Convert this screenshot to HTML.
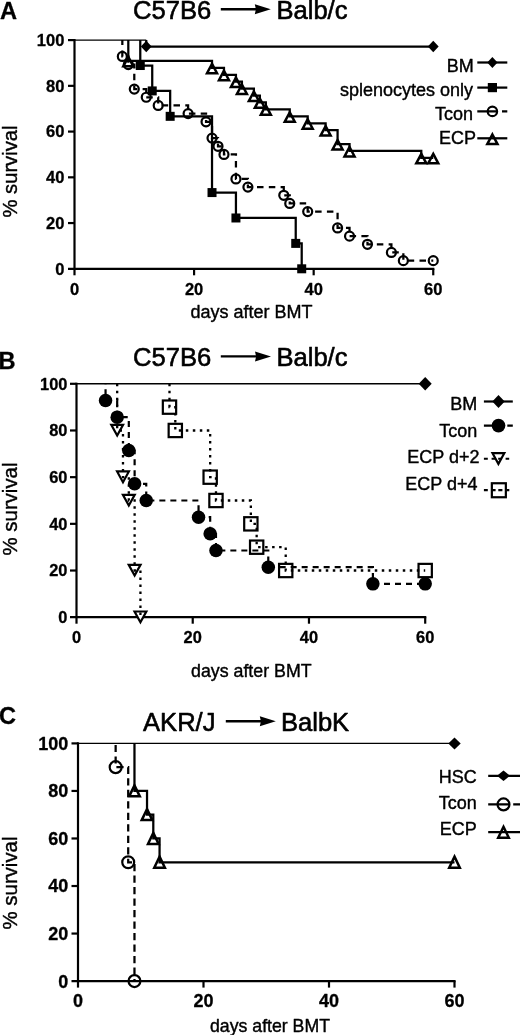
<!DOCTYPE html>
<html><head><meta charset="utf-8"><title>Survival after BMT</title>
<style>
html,body{margin:0;padding:0;background:#fff;}
body{width:520px;height:1035px;overflow:hidden;}
svg{display:block;font-family:'Liberation Sans', Arial, Helvetica, sans-serif;fill:#000;}
</style></head><body>
<svg width="520" height="1035" viewBox="0 0 520 1035">
<rect width="520" height="1035" fill="#fff"/>
<text x="0" y="18.8" font-size="23.6" font-weight="bold" text-anchor="start" stroke="#000" stroke-width="0.3" stroke-linejoin="round">A</text>
<text x="133" y="18.6" font-size="25.6" font-weight="normal" text-anchor="start" stroke="#000" stroke-width="0.6" stroke-linejoin="round">C57B6</text>
<path d="M220.8 9.3 H261.2" fill="none" stroke="#000" stroke-width="2.4" stroke-linejoin="miter" stroke-linecap="butt"/>
<path d="M270.8 9.3 L254.8 4.3 L255.92 9.3 L254.8 14.3Z" fill="#000"/>
<text x="276.4" y="18.6" font-size="25.6" font-weight="normal" text-anchor="start" stroke="#000" stroke-width="0.6" stroke-linejoin="round">Balb/c</text>
<text x="17" y="171.5" font-size="20.2" font-weight="normal" text-anchor="middle" stroke="#000" stroke-width="0.4" stroke-linejoin="round" transform="rotate(-90 17 171.5)">% survival</text>
<text x="251.5" y="318" font-size="18" font-weight="normal" text-anchor="middle" stroke="#000" stroke-width="0.4" stroke-linejoin="round">days after BMT</text>
<path d="M74.5 39 V275.3" fill="none" stroke="#000" stroke-width="2.2" stroke-linejoin="miter" stroke-linecap="butt"/>
<path d="M68 268.8 H434.35" fill="none" stroke="#000" stroke-width="2.2" stroke-linejoin="miter" stroke-linecap="butt"/>
<path d="M68 223.06 H74.5" fill="none" stroke="#000" stroke-width="2.2" stroke-linejoin="miter" stroke-linecap="butt"/>
<path d="M68 177.32 H74.5" fill="none" stroke="#000" stroke-width="2.2" stroke-linejoin="miter" stroke-linecap="butt"/>
<path d="M68 131.58 H74.5" fill="none" stroke="#000" stroke-width="2.2" stroke-linejoin="miter" stroke-linecap="butt"/>
<path d="M68 85.84 H74.5" fill="none" stroke="#000" stroke-width="2.2" stroke-linejoin="miter" stroke-linecap="butt"/>
<path d="M68 40.1 H74.5" fill="none" stroke="#000" stroke-width="2.2" stroke-linejoin="miter" stroke-linecap="butt"/>
<path d="M194.08 268.8 V275.3" fill="none" stroke="#000" stroke-width="2.2" stroke-linejoin="miter" stroke-linecap="butt"/>
<path d="M313.67 268.8 V275.3" fill="none" stroke="#000" stroke-width="2.2" stroke-linejoin="miter" stroke-linecap="butt"/>
<path d="M433.25 268.8 V275.3" fill="none" stroke="#000" stroke-width="2.2" stroke-linejoin="miter" stroke-linecap="butt"/>
<text x="64.4" y="274.71" font-size="16.5" font-weight="bold" text-anchor="end" stroke="#000" stroke-width="0.3" stroke-linejoin="round">0</text>
<text x="64.4" y="228.97" font-size="16.5" font-weight="bold" text-anchor="end" stroke="#000" stroke-width="0.3" stroke-linejoin="round">20</text>
<text x="64.4" y="183.23" font-size="16.5" font-weight="bold" text-anchor="end" stroke="#000" stroke-width="0.3" stroke-linejoin="round">40</text>
<text x="64.4" y="137.49" font-size="16.5" font-weight="bold" text-anchor="end" stroke="#000" stroke-width="0.3" stroke-linejoin="round">60</text>
<text x="64.4" y="91.75" font-size="16.5" font-weight="bold" text-anchor="end" stroke="#000" stroke-width="0.3" stroke-linejoin="round">80</text>
<text x="64.4" y="46.01" font-size="16.5" font-weight="bold" text-anchor="end" stroke="#000" stroke-width="0.3" stroke-linejoin="round">100</text>
<text x="74.5" y="294.8" font-size="16.5" font-weight="bold" text-anchor="middle" stroke="#000" stroke-width="0.3" stroke-linejoin="round">0</text>
<text x="194.08" y="294.8" font-size="16.5" font-weight="bold" text-anchor="middle" stroke="#000" stroke-width="0.3" stroke-linejoin="round">20</text>
<text x="313.67" y="294.8" font-size="16.5" font-weight="bold" text-anchor="middle" stroke="#000" stroke-width="0.3" stroke-linejoin="round">40</text>
<text x="433.25" y="294.8" font-size="16.5" font-weight="bold" text-anchor="middle" stroke="#000" stroke-width="0.3" stroke-linejoin="round">60</text>
<path d="M74.5 40.1 H146.25" fill="none" stroke="#000" stroke-width="1.4" stroke-linejoin="miter" stroke-linecap="butt"/>
<path d="M146.25 40.1 V46.62 H433.25" fill="none" stroke="#000" stroke-width="2.25" stroke-linejoin="miter" stroke-linecap="butt"/>
<path d="M146.25 40.87 L151.65 46.62 L146.25 52.37 L140.85 46.62Z" fill="#000"/>
<path d="M433.25 40.87 L438.65 46.62 L433.25 52.37 L427.85 46.62Z" fill="#000"/>
<path d="M140.27 40.1 V65.51 H152.23 V90.92 H170.17 V116.33 H212.02 V192.57 H235.94 V217.98 H295.73 V243.39 H301.71 V268.8" fill="none" stroke="#000" stroke-width="2.25" stroke-linejoin="miter" stroke-linecap="butt"/>
<rect x="135.77" y="61.01" width="9" height="9" fill="#000"/>
<rect x="147.73" y="86.42" width="9" height="9" fill="#000"/>
<rect x="165.67" y="111.83" width="9" height="9" fill="#000"/>
<rect x="207.52" y="188.07" width="9" height="9" fill="#000"/>
<rect x="231.44" y="213.48" width="9" height="9" fill="#000"/>
<rect x="291.23" y="238.89" width="9" height="9" fill="#000"/>
<rect x="297.21" y="264.3" width="9" height="9" fill="#000"/>
<path d="M128.31 40.1 V60.89 H212.02 V67.82 H223.98 V74.75 H235.94 V81.68 H241.92 V88.61 H253.88 V95.54 H259.85 V102.47 H265.83 V109.4 H289.75 V116.33 H307.69 V123.26 H325.62 V130.19 H337.58 V144.05 H349.54 V150.98 H421.29 V157.92 H433.25" fill="none" stroke="#000" stroke-width="2.25" stroke-linejoin="miter" stroke-linecap="butt"/>
<path d="M128.31 56.89 L133.31 66.29 L123.31 66.29Z" fill="none" stroke="#000" stroke-width="2.5" stroke-linejoin="miter"/>
<path d="M212.02 63.82 L217.02 73.22 L207.02 73.22Z" fill="none" stroke="#000" stroke-width="2.5" stroke-linejoin="miter"/>
<path d="M223.98 70.75 L228.98 80.15 L218.98 80.15Z" fill="none" stroke="#000" stroke-width="2.5" stroke-linejoin="miter"/>
<path d="M235.94 77.68 L240.94 87.08 L230.94 87.08Z" fill="none" stroke="#000" stroke-width="2.5" stroke-linejoin="miter"/>
<path d="M241.92 84.61 L246.92 94.01 L236.92 94.01Z" fill="none" stroke="#000" stroke-width="2.5" stroke-linejoin="miter"/>
<path d="M253.88 91.54 L258.88 100.94 L248.88 100.94Z" fill="none" stroke="#000" stroke-width="2.5" stroke-linejoin="miter"/>
<path d="M259.85 98.47 L264.85 107.87 L254.85 107.87Z" fill="none" stroke="#000" stroke-width="2.5" stroke-linejoin="miter"/>
<path d="M265.83 105.4 L270.83 114.8 L260.83 114.8Z" fill="none" stroke="#000" stroke-width="2.5" stroke-linejoin="miter"/>
<path d="M289.75 112.33 L294.75 121.73 L284.75 121.73Z" fill="none" stroke="#000" stroke-width="2.5" stroke-linejoin="miter"/>
<path d="M307.69 119.26 L312.69 128.66 L302.69 128.66Z" fill="none" stroke="#000" stroke-width="2.5" stroke-linejoin="miter"/>
<path d="M325.62 126.19 L330.62 135.59 L320.62 135.59Z" fill="none" stroke="#000" stroke-width="2.5" stroke-linejoin="miter"/>
<path d="M337.58 140.05 L342.58 149.45 L332.58 149.45Z" fill="none" stroke="#000" stroke-width="2.5" stroke-linejoin="miter"/>
<path d="M349.54 146.98 L354.54 156.38 L344.54 156.38Z" fill="none" stroke="#000" stroke-width="2.5" stroke-linejoin="miter"/>
<path d="M421.29 153.92 L426.29 163.32 L416.29 163.32Z" fill="none" stroke="#000" stroke-width="2.5" stroke-linejoin="miter"/>
<path d="M433.25 153.92 L438.25 163.32 L428.25 163.32Z" fill="none" stroke="#000" stroke-width="2.5" stroke-linejoin="miter"/>
<path d="M212.02 63.82 L214.45 67.82 L212.02 67.82Z" fill="#000"/>
<path d="M223.98 70.75 L226.41 74.75 L223.98 74.75Z" fill="#000"/>
<path d="M235.94 77.68 L238.37 81.68 L235.94 81.68Z" fill="#000"/>
<path d="M241.92 84.61 L244.34 88.61 L241.92 88.61Z" fill="#000"/>
<path d="M253.88 91.54 L256.3 95.54 L253.88 95.54Z" fill="#000"/>
<path d="M259.85 98.47 L262.28 102.47 L259.85 102.47Z" fill="#000"/>
<path d="M265.83 105.4 L268.26 109.4 L265.83 109.4Z" fill="#000"/>
<path d="M289.75 112.33 L292.18 116.33 L289.75 116.33Z" fill="#000"/>
<path d="M307.69 119.26 L310.12 123.26 L307.69 123.26Z" fill="#000"/>
<path d="M325.62 126.19 L328.05 130.19 L325.62 130.19Z" fill="#000"/>
<path d="M337.58 140.05 L340.01 144.05 L337.58 144.05Z" fill="#000"/>
<path d="M349.54 146.98 L351.97 150.98 L349.54 150.98Z" fill="#000"/>
<path d="M421.29 153.92 L423.72 157.92 L421.29 157.92Z" fill="#000"/>
<path d="M122.33 40.1 V56.44 H128.31 V64.6 H134.29 V89.11 H146.25 V97.27 H158.21 V105.44 H188.1 V113.61 H206.04 V121.78 H212.02 V138.11 H218 V146.28 H223.98 V154.45 H235.94 V178.95 H247.9 V187.12 H283.77 V195.29 H289.75 V203.46 H307.69 V211.62 H337.58 V227.96 H349.54 V236.13 H367.48 V244.3 H391.4 V252.46 H403.35 V260.63 H433.25" fill="none" stroke="#000" stroke-width="2.25" stroke-linejoin="miter" stroke-linecap="butt" stroke-dasharray="6.5 5.3" stroke-dashoffset="1.5"/>
<circle cx="122.33" cy="56.44" r="4.5" fill="none" stroke="#000" stroke-width="2.2"/>
<circle cx="128.31" cy="64.6" r="4.5" fill="none" stroke="#000" stroke-width="2.2"/>
<circle cx="134.29" cy="89.11" r="4.5" fill="none" stroke="#000" stroke-width="2.2"/>
<circle cx="146.25" cy="97.27" r="4.5" fill="none" stroke="#000" stroke-width="2.2"/>
<circle cx="158.21" cy="105.44" r="4.5" fill="none" stroke="#000" stroke-width="2.2"/>
<circle cx="188.1" cy="113.61" r="4.5" fill="none" stroke="#000" stroke-width="2.2"/>
<circle cx="206.04" cy="121.78" r="4.5" fill="none" stroke="#000" stroke-width="2.2"/>
<circle cx="212.02" cy="138.11" r="4.5" fill="none" stroke="#000" stroke-width="2.2"/>
<circle cx="218" cy="146.28" r="4.5" fill="none" stroke="#000" stroke-width="2.2"/>
<circle cx="223.98" cy="154.45" r="4.5" fill="none" stroke="#000" stroke-width="2.2"/>
<circle cx="235.94" cy="178.95" r="4.5" fill="none" stroke="#000" stroke-width="2.2"/>
<circle cx="247.9" cy="187.12" r="4.5" fill="none" stroke="#000" stroke-width="2.2"/>
<circle cx="283.77" cy="195.29" r="4.5" fill="none" stroke="#000" stroke-width="2.2"/>
<circle cx="289.75" cy="203.46" r="4.5" fill="none" stroke="#000" stroke-width="2.2"/>
<circle cx="307.69" cy="211.62" r="4.5" fill="none" stroke="#000" stroke-width="2.2"/>
<circle cx="337.58" cy="227.96" r="4.5" fill="none" stroke="#000" stroke-width="2.2"/>
<circle cx="349.54" cy="236.13" r="4.5" fill="none" stroke="#000" stroke-width="2.2"/>
<circle cx="367.48" cy="244.3" r="4.5" fill="none" stroke="#000" stroke-width="2.2"/>
<circle cx="391.4" cy="252.46" r="4.5" fill="none" stroke="#000" stroke-width="2.2"/>
<circle cx="403.35" cy="260.63" r="4.5" fill="none" stroke="#000" stroke-width="2.2"/>
<circle cx="433.25" cy="260.63" r="4.5" fill="none" stroke="#000" stroke-width="2.2"/>
<text x="473.8" y="71.7" font-size="18" font-weight="normal" text-anchor="end" stroke="#000" stroke-width="0.4" stroke-linejoin="round">BM</text>
<text x="473" y="96.3" font-size="18" font-weight="normal" text-anchor="end" stroke="#000" stroke-width="0.4" stroke-linejoin="round">splenocytes only</text>
<text x="473" y="119.5" font-size="18" font-weight="normal" text-anchor="end" stroke="#000" stroke-width="0.4" stroke-linejoin="round">Tcon</text>
<text x="476" y="143.7" font-size="18" font-weight="normal" text-anchor="end" stroke="#000" stroke-width="0.4" stroke-linejoin="round">ECP</text>
<path d="M477.3 62.5 H507.3" fill="none" stroke="#000" stroke-width="2.25" stroke-linejoin="miter" stroke-linecap="butt"/>
<path d="M492.4 57.1 L497.55 62.5 L492.4 67.9 L487.25 62.5Z" fill="#000"/>
<path d="M477.3 87.6 H507.3" fill="none" stroke="#000" stroke-width="2.25" stroke-linejoin="miter" stroke-linecap="butt"/>
<rect x="487.8" y="83" width="9.2" height="9.2" fill="#000"/>
<path d="M477.3 111.4 H498 M502 111.4 H507.3" fill="none" stroke="#000" stroke-width="2.25" stroke-linejoin="miter" stroke-linecap="butt"/>
<circle cx="492.4" cy="111.4" r="4.7" fill="none" stroke="#000" stroke-width="2.2"/>
<path d="M477.3 138.3 H507.3" fill="none" stroke="#000" stroke-width="2.25" stroke-linejoin="miter" stroke-linecap="butt"/>
<path d="M492.4 134.5 L497.5 144.1 L487.3 144.1Z" fill="none" stroke="#000" stroke-width="2.5" stroke-linejoin="miter"/>
<text x="-1.6" y="369.2" font-size="23.6" font-weight="bold" text-anchor="start" stroke="#000" stroke-width="0.3" stroke-linejoin="round">B</text>
<text x="133" y="365.5" font-size="25.6" font-weight="normal" text-anchor="start" stroke="#000" stroke-width="0.6" stroke-linejoin="round">C57B6</text>
<path d="M220.8 356.4 H261.4" fill="none" stroke="#000" stroke-width="2.4" stroke-linejoin="miter" stroke-linecap="butt"/>
<path d="M271 356.4 L255 351.4 L256.12 356.4 L255 361.4Z" fill="#000"/>
<text x="276.4" y="365.5" font-size="25.6" font-weight="normal" text-anchor="start" stroke="#000" stroke-width="0.6" stroke-linejoin="round">Balb/c</text>
<text x="17.3" y="509" font-size="20.4" font-weight="normal" text-anchor="middle" stroke="#000" stroke-width="0.4" stroke-linejoin="round" transform="rotate(-90 17.3 509)">% survival</text>
<text x="251.3" y="676.8" font-size="17.8" font-weight="normal" text-anchor="middle" stroke="#000" stroke-width="0.4" stroke-linejoin="round">days after BMT</text>
<path d="M76.5 382.7 V623.7" fill="none" stroke="#000" stroke-width="2.2" stroke-linejoin="miter" stroke-linecap="butt"/>
<path d="M70 617.2 H426.3" fill="none" stroke="#000" stroke-width="2.2" stroke-linejoin="miter" stroke-linecap="butt"/>
<path d="M70 570.52 H76.5" fill="none" stroke="#000" stroke-width="2.2" stroke-linejoin="miter" stroke-linecap="butt"/>
<path d="M70 523.84 H76.5" fill="none" stroke="#000" stroke-width="2.2" stroke-linejoin="miter" stroke-linecap="butt"/>
<path d="M70 477.16 H76.5" fill="none" stroke="#000" stroke-width="2.2" stroke-linejoin="miter" stroke-linecap="butt"/>
<path d="M70 430.48 H76.5" fill="none" stroke="#000" stroke-width="2.2" stroke-linejoin="miter" stroke-linecap="butt"/>
<path d="M70 383.8 H76.5" fill="none" stroke="#000" stroke-width="2.2" stroke-linejoin="miter" stroke-linecap="butt"/>
<path d="M192.73 617.2 V623.7" fill="none" stroke="#000" stroke-width="2.2" stroke-linejoin="miter" stroke-linecap="butt"/>
<path d="M308.97 617.2 V623.7" fill="none" stroke="#000" stroke-width="2.2" stroke-linejoin="miter" stroke-linecap="butt"/>
<path d="M425.2 617.2 V623.7" fill="none" stroke="#000" stroke-width="2.2" stroke-linejoin="miter" stroke-linecap="butt"/>
<text x="67.4" y="623.07" font-size="16.4" font-weight="bold" text-anchor="end" stroke="#000" stroke-width="0.3" stroke-linejoin="round">0</text>
<text x="67.4" y="576.39" font-size="16.4" font-weight="bold" text-anchor="end" stroke="#000" stroke-width="0.3" stroke-linejoin="round">20</text>
<text x="67.4" y="529.71" font-size="16.4" font-weight="bold" text-anchor="end" stroke="#000" stroke-width="0.3" stroke-linejoin="round">40</text>
<text x="67.4" y="483.03" font-size="16.4" font-weight="bold" text-anchor="end" stroke="#000" stroke-width="0.3" stroke-linejoin="round">60</text>
<text x="67.4" y="436.35" font-size="16.4" font-weight="bold" text-anchor="end" stroke="#000" stroke-width="0.3" stroke-linejoin="round">80</text>
<text x="67.4" y="389.67" font-size="16.4" font-weight="bold" text-anchor="end" stroke="#000" stroke-width="0.3" stroke-linejoin="round">100</text>
<text x="76.5" y="642.8" font-size="16.4" font-weight="bold" text-anchor="middle" stroke="#000" stroke-width="0.3" stroke-linejoin="round">0</text>
<text x="192.73" y="642.8" font-size="16.4" font-weight="bold" text-anchor="middle" stroke="#000" stroke-width="0.3" stroke-linejoin="round">20</text>
<text x="308.97" y="642.8" font-size="16.4" font-weight="bold" text-anchor="middle" stroke="#000" stroke-width="0.3" stroke-linejoin="round">40</text>
<text x="425.2" y="642.8" font-size="16.4" font-weight="bold" text-anchor="middle" stroke="#000" stroke-width="0.3" stroke-linejoin="round">60</text>
<path d="M76.5 383.8 H425.2" fill="none" stroke="#000" stroke-width="1.4" stroke-linejoin="miter" stroke-linecap="butt"/>
<path d="M425.2 377 L431.7 383.8 L425.2 390.6 L418.7 383.8Z" fill="#000"/>
<path d="M111.28 424.78 L123.08 424.78 L117.18 435.48Z" fill="#fff" stroke="#000" stroke-width="2.2" stroke-linejoin="miter"/>
<path d="M117.09 471.46 L128.89 471.46 L122.99 482.16Z" fill="#fff" stroke="#000" stroke-width="2.2" stroke-linejoin="miter"/>
<path d="M122.91 494.8 L134.71 494.8 L128.81 505.5Z" fill="#fff" stroke="#000" stroke-width="2.2" stroke-linejoin="miter"/>
<path d="M128.72 564.82 L140.52 564.82 L134.62 575.52Z" fill="#fff" stroke="#000" stroke-width="2.2" stroke-linejoin="miter"/>
<path d="M134.53 611.5 L146.33 611.5 L140.43 622.2Z" fill="#fff" stroke="#000" stroke-width="2.2" stroke-linejoin="miter"/>
<path d="M117.18 383.8 V430.48 H122.99 V477.16 H128.81 V500.5 H134.62 V570.52 H140.43 V617.2" fill="none" stroke="#000" stroke-width="2.3" stroke-linejoin="miter" stroke-linecap="butt" stroke-dasharray="2.5 4.5" stroke-dashoffset="0"/>
<rect x="162.84" y="400.49" width="13.3" height="13.3" fill="none" stroke="#000" stroke-width="2.2"/>
<rect x="168.65" y="423.83" width="13.3" height="13.3" fill="none" stroke="#000" stroke-width="2.2"/>
<rect x="203.52" y="470.51" width="13.3" height="13.3" fill="none" stroke="#000" stroke-width="2.2"/>
<rect x="209.33" y="493.85" width="13.3" height="13.3" fill="none" stroke="#000" stroke-width="2.2"/>
<rect x="244.2" y="517.19" width="13.3" height="13.3" fill="none" stroke="#000" stroke-width="2.2"/>
<rect x="250.01" y="540.53" width="13.3" height="13.3" fill="none" stroke="#000" stroke-width="2.2"/>
<rect x="279.07" y="563.87" width="13.3" height="13.3" fill="none" stroke="#000" stroke-width="2.2"/>
<rect x="418.55" y="563.87" width="13.3" height="13.3" fill="none" stroke="#000" stroke-width="2.2"/>
<path d="M169.49 383.8 V407.14 H175.3 V430.48 H210.17 V477.16 H215.98 V500.5 H250.85 V523.84 H256.66 V547.18 H285.72 V570.52 H425.2" fill="none" stroke="#000" stroke-width="2.3" stroke-linejoin="miter" stroke-linecap="butt" stroke-dasharray="2.5 4.5" stroke-dashoffset="0"/>
<path d="M105.56 383.8 V400.47 H117.18 V417.14 H128.81 V450.49 H134.62 V483.83 H146.24 V500.5 H198.55 V517.17 H210.17 V533.84 H215.98 V550.51 H268.28 V567.19 H372.89 V583.86 H425.2" fill="none" stroke="#000" stroke-width="2.2" stroke-linejoin="miter" stroke-linecap="butt" stroke-dasharray="6 5" stroke-dashoffset="5.5"/>
<circle cx="105.56" cy="400.47" r="6.75" fill="#000"/>
<circle cx="117.18" cy="417.14" r="6.75" fill="#000"/>
<circle cx="128.81" cy="450.49" r="6.75" fill="#000"/>
<circle cx="134.62" cy="483.83" r="6.75" fill="#000"/>
<circle cx="146.24" cy="500.5" r="6.75" fill="#000"/>
<circle cx="198.55" cy="517.17" r="6.75" fill="#000"/>
<circle cx="210.17" cy="533.84" r="6.75" fill="#000"/>
<circle cx="215.98" cy="550.51" r="6.75" fill="#000"/>
<circle cx="268.28" cy="567.19" r="6.75" fill="#000"/>
<circle cx="372.89" cy="583.86" r="6.75" fill="#000"/>
<circle cx="425.2" cy="583.86" r="6.75" fill="#000"/>
<text x="477.3" y="410.3" font-size="18" font-weight="normal" text-anchor="end" stroke="#000" stroke-width="0.4" stroke-linejoin="round">BM</text>
<text x="477.3" y="436.6" font-size="18" font-weight="normal" text-anchor="end" stroke="#000" stroke-width="0.4" stroke-linejoin="round">Tcon</text>
<text x="479.5" y="462.5" font-size="18" font-weight="normal" text-anchor="end" stroke="#000" stroke-width="0.4" stroke-linejoin="round">ECP d+2</text>
<text x="477.6" y="490" font-size="18" font-weight="normal" text-anchor="end" stroke="#000" stroke-width="0.4" stroke-linejoin="round">ECP d+4</text>
<path d="M483.9 401.5 H512.8" fill="none" stroke="#000" stroke-width="2.2" stroke-linejoin="miter" stroke-linecap="butt"/>
<path d="M498.5 395 L504.7 401.5 L498.5 408 L492.3 401.5Z" fill="#000"/>
<path d="M483.9 425.6 H498 M507.3 425.6 H512.8" fill="none" stroke="#000" stroke-width="2.2" stroke-linejoin="miter" stroke-linecap="butt"/>
<circle cx="498.5" cy="425.6" r="6.85" fill="#000"/>
<path d="M483.9 458.75 H487.8 M491.6 458.75 H495.5 M498.2 458.75 H502 M505.6 458.75 H509.2" fill="none" stroke="#000" stroke-width="2.2" stroke-linejoin="miter" stroke-linecap="butt"/>
<path d="M492.5 453.2 L504.3 453.2 L498.4 463.9Z" fill="none" stroke="#000" stroke-width="2.2" stroke-linejoin="miter"/>
<path d="M483.9 490.1 H487.8 M491.6 490.1 H495.6 M498.3 490.1 H502.4 M506.5 490.1 H509.3" fill="none" stroke="#000" stroke-width="2.2" stroke-linejoin="miter" stroke-linecap="butt"/>
<rect x="491.85" y="483.25" width="14" height="14" fill="none" stroke="#000" stroke-width="2.2"/>
<text x="-1" y="724.1" font-size="23.6" font-weight="bold" text-anchor="start" stroke="#000" stroke-width="0.3" stroke-linejoin="round">C</text>
<text x="143" y="730.5" font-size="25.6" font-weight="normal" text-anchor="start" stroke="#000" stroke-width="0.6" stroke-linejoin="round">AKR/J</text>
<path d="M225.8 721.2 H266.2" fill="none" stroke="#000" stroke-width="2.4" stroke-linejoin="miter" stroke-linecap="butt"/>
<path d="M275.8 721.2 L259.8 716.2 L260.92 721.2 L259.8 726.2Z" fill="#000"/>
<text x="280.9" y="730.5" font-size="25.6" font-weight="normal" text-anchor="start" stroke="#000" stroke-width="0.6" stroke-linejoin="round">BalbK</text>
<text x="17.3" y="883" font-size="20.4" font-weight="normal" text-anchor="middle" stroke="#000" stroke-width="0.4" stroke-linejoin="round" transform="rotate(-90 17.3 883)">% survival</text>
<text x="270" y="1031.8" font-size="17.7" font-weight="normal" text-anchor="middle" stroke="#000" stroke-width="0.4" stroke-linejoin="round">days after BMT</text>
<path d="M78 742.3 V987.6" fill="none" stroke="#000" stroke-width="2.2" stroke-linejoin="miter" stroke-linecap="butt"/>
<path d="M71.5 981.1 H455.6" fill="none" stroke="#000" stroke-width="2.2" stroke-linejoin="miter" stroke-linecap="butt"/>
<path d="M71.5 933.56 H78" fill="none" stroke="#000" stroke-width="2.2" stroke-linejoin="miter" stroke-linecap="butt"/>
<path d="M71.5 886.02 H78" fill="none" stroke="#000" stroke-width="2.2" stroke-linejoin="miter" stroke-linecap="butt"/>
<path d="M71.5 838.48 H78" fill="none" stroke="#000" stroke-width="2.2" stroke-linejoin="miter" stroke-linecap="butt"/>
<path d="M71.5 790.94 H78" fill="none" stroke="#000" stroke-width="2.2" stroke-linejoin="miter" stroke-linecap="butt"/>
<path d="M71.5 743.4 H78" fill="none" stroke="#000" stroke-width="2.2" stroke-linejoin="miter" stroke-linecap="butt"/>
<path d="M203.5 981.1 V987.6" fill="none" stroke="#000" stroke-width="2.2" stroke-linejoin="miter" stroke-linecap="butt"/>
<path d="M329 981.1 V987.6" fill="none" stroke="#000" stroke-width="2.2" stroke-linejoin="miter" stroke-linecap="butt"/>
<path d="M454.5 981.1 V987.6" fill="none" stroke="#000" stroke-width="2.2" stroke-linejoin="miter" stroke-linecap="butt"/>
<text x="68.2" y="987.54" font-size="18" font-weight="bold" text-anchor="end" stroke="#000" stroke-width="0.3" stroke-linejoin="round">0</text>
<text x="68.2" y="940" font-size="18" font-weight="bold" text-anchor="end" stroke="#000" stroke-width="0.3" stroke-linejoin="round">20</text>
<text x="68.2" y="892.46" font-size="18" font-weight="bold" text-anchor="end" stroke="#000" stroke-width="0.3" stroke-linejoin="round">40</text>
<text x="68.2" y="844.92" font-size="18" font-weight="bold" text-anchor="end" stroke="#000" stroke-width="0.3" stroke-linejoin="round">60</text>
<text x="68.2" y="797.38" font-size="18" font-weight="bold" text-anchor="end" stroke="#000" stroke-width="0.3" stroke-linejoin="round">80</text>
<text x="68.2" y="749.84" font-size="18" font-weight="bold" text-anchor="end" stroke="#000" stroke-width="0.3" stroke-linejoin="round">100</text>
<text x="78" y="1007.1" font-size="18" font-weight="bold" text-anchor="middle" stroke="#000" stroke-width="0.3" stroke-linejoin="round">0</text>
<text x="203.5" y="1007.1" font-size="18" font-weight="bold" text-anchor="middle" stroke="#000" stroke-width="0.3" stroke-linejoin="round">20</text>
<text x="329" y="1007.1" font-size="18" font-weight="bold" text-anchor="middle" stroke="#000" stroke-width="0.3" stroke-linejoin="round">40</text>
<text x="454.5" y="1007.1" font-size="18" font-weight="bold" text-anchor="middle" stroke="#000" stroke-width="0.3" stroke-linejoin="round">60</text>
<path d="M78 743.4 H454.5" fill="none" stroke="#000" stroke-width="1.4" stroke-linejoin="miter" stroke-linecap="butt"/>
<path d="M454.5 737.4 L460.7 743.4 L454.5 749.4 L448.3 743.4Z" fill="#000"/>
<path d="M134.47 743.4 V790.94 H147.03 V814.71 H153.3 V838.48 H159.57 V862.25 H454.5" fill="none" stroke="#000" stroke-width="2.25" stroke-linejoin="miter" stroke-linecap="butt"/>
<path d="M134.47 785.34 L139.78 796.34 L129.17 796.34Z" fill="none" stroke="#000" stroke-width="2.5" stroke-linejoin="miter"/>
<path d="M147.03 809.11 L152.33 820.11 L141.72 820.11Z" fill="none" stroke="#000" stroke-width="2.5" stroke-linejoin="miter"/>
<path d="M153.3 832.88 L158.6 843.88 L148 843.88Z" fill="none" stroke="#000" stroke-width="2.5" stroke-linejoin="miter"/>
<path d="M159.57 856.65 L164.88 867.65 L154.27 867.65Z" fill="none" stroke="#000" stroke-width="2.5" stroke-linejoin="miter"/>
<path d="M454.5 856.65 L459.8 867.65 L449.2 867.65Z" fill="none" stroke="#000" stroke-width="2.5" stroke-linejoin="miter"/>
<path d="M134.47 785.34 L137.47 790.94 L134.47 790.94Z" fill="#000"/>
<path d="M147.03 809.11 L150.02 814.71 L147.03 814.71Z" fill="#000"/>
<path d="M153.3 832.88 L156.3 838.48 L153.3 838.48Z" fill="#000"/>
<path d="M159.57 856.65 L162.57 862.25 L159.57 862.25Z" fill="#000"/>
<path d="M115.65 743.4 V767.17 H128.2 V862.25 H134.47 V981.1" fill="none" stroke="#000" stroke-width="2.25" stroke-linejoin="miter" stroke-linecap="butt" stroke-dasharray="7.2 4.3" stroke-dashoffset="10"/>
<circle cx="115.65" cy="767.17" r="5.95" fill="none" stroke="#000" stroke-width="2.2"/>
<circle cx="128.2" cy="862.25" r="5.95" fill="none" stroke="#000" stroke-width="2.2"/>
<circle cx="134.47" cy="981.1" r="5.95" fill="none" stroke="#000" stroke-width="2.2"/>
<text x="476.8" y="782.7" font-size="18" font-weight="normal" text-anchor="end" stroke="#000" stroke-width="0.4" stroke-linejoin="round">HSC</text>
<text x="476.8" y="809" font-size="18" font-weight="normal" text-anchor="end" stroke="#000" stroke-width="0.4" stroke-linejoin="round">Tcon</text>
<text x="476.8" y="835.1" font-size="18" font-weight="normal" text-anchor="end" stroke="#000" stroke-width="0.4" stroke-linejoin="round">ECP</text>
<path d="M488.2 775.8 H521" fill="none" stroke="#000" stroke-width="2.25" stroke-linejoin="miter" stroke-linecap="butt"/>
<path d="M503.5 770.55 L510 775.8 L503.5 781.05 L497 775.8Z" fill="#000"/>
<path d="M488.2 804.4 H509.5 M513.2 804.4 H521" fill="none" stroke="#000" stroke-width="2.25" stroke-linejoin="miter" stroke-linecap="butt"/>
<circle cx="503.5" cy="804.4" r="5.95" fill="none" stroke="#000" stroke-width="2.2"/>
<path d="M488.2 832.1 H521" fill="none" stroke="#000" stroke-width="2.25" stroke-linejoin="miter" stroke-linecap="butt"/>
<path d="M503.5 826.8 L508.8 837.8 L498.2 837.8Z" fill="none" stroke="#000" stroke-width="2.5" stroke-linejoin="miter"/>
</svg>
</body></html>
